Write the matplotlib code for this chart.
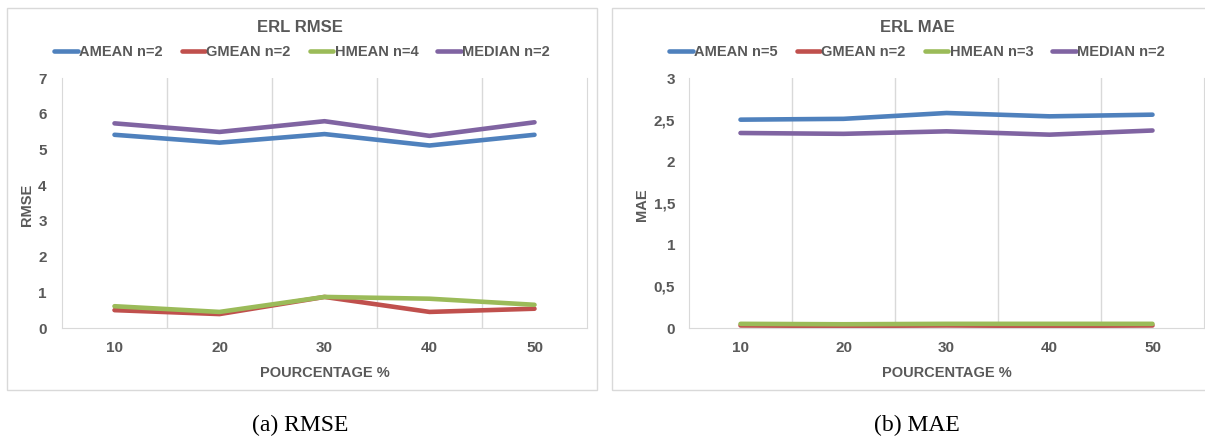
import matplotlib.pyplot as plt
from matplotlib.patches import Rectangle
from matplotlib.ticker import FuncFormatter

pourcentage = [10, 20, 30, 40, 50]

# RMSE panel
rmse_amean = [5.41, 5.19, 5.43, 5.11, 5.41]
rmse_gmean = [0.50, 0.39, 0.87, 0.45, 0.54]
rmse_hmean = [0.61, 0.45, 0.87, 0.82, 0.65]
rmse_median = [5.73, 5.49, 5.79, 5.38, 5.76]
rmse_labels = ["AMEAN n=2", "GMEAN n=2", "HMEAN n=4", "MEDIAN n=2"]

# MAE panel
mae_amean = [2.50, 2.51, 2.58, 2.54, 2.56]
mae_gmean = [0.03, 0.025, 0.03, 0.025, 0.03]
mae_hmean = [0.05, 0.045, 0.05, 0.05, 0.05]
mae_median = [2.34, 2.33, 2.36, 2.32, 2.37]
mae_labels = ["AMEAN n=5", "GMEAN n=2", "HMEAN n=3", "MEDIAN n=2"]

colors = ["#4F81BD", "#C0504D", "#9BBB59", "#8064A2"]
grey = "#595959"
light = "#D9D9D9"

plt.rcParams['font.family'] = ['Liberation Sans', 'DejaVu Sans']

W, H = 1205, 446
fig = plt.figure(figsize=(W / 100, H / 100), dpi=100)


def px(x0, y0, x1, y1):
    return [x0 / W, 1 - y1 / H, (x1 - x0) / W, (y1 - y0) / H]


def panel(rect, series, labels, ymax, ystep, ylabel, title, box, title_x, leg_x, ylab_x, ypad, fmt):
    # outer frame of the chart
    fig.patches.append(Rectangle((box[0] / W, 1 - box[3] / H), (box[2] - box[0]) / W,
                                 (box[3] - box[1]) / H, transform=fig.transFigure,
                                 fill=False, edgecolor=light, lw=1))
    ax = fig.add_axes(px(*rect))
    xs = range(len(pourcentage))
    lines = []
    for vals, c, lab in zip(series, colors, labels):
        ln, = ax.plot(xs, vals, color=c, lw=3.3, label=lab, solid_capstyle='round')
        lines.append(ln)
    ax.set_xlim(-0.5, len(pourcentage) - 0.5)
    ax.set_ylim(0, ymax)
    ax.set_xticks(list(xs))
    ax.set_xticklabels([str(p) for p in pourcentage])
    ax.set_xticks([i + 0.5 for i in range(len(pourcentage) - 1)], minor=True)
    ax.grid(True, which='minor', axis='x', color=light, lw=1)
    ax.set_yticks([i * ystep for i in range(int(round(ymax / ystep)) + 1)])
    ax.yaxis.set_major_formatter(FuncFormatter(fmt))
    ax.spines['top'].set_visible(False)
    for s in ['bottom', 'left', 'right']:
        ax.spines[s].set_color(light)
    ax.tick_params(axis='both', which='both', length=0, colors=grey, labelsize=11)
    ax.tick_params(axis='x', pad=9)
    ax.tick_params(axis='y', pad=ypad)
    for t in ax.get_xticklabels() + ax.get_yticklabels():
        t.set_fontweight('bold')
    ax.set_xlabel("POURCENTAGE %", color=grey, fontsize=10.5, fontweight='bold', labelpad=8)
    fig.text(ylab_x / W, 1 - 205 / H, ylabel, rotation=90, color=grey, fontsize=10.5,
             fontweight='bold', ha='center', va='center')
    fig.text(title_x / W, 1 - 27 / H, title, color=grey, fontsize=12, fontweight='bold',
             ha='center', va='center')
    fig.legend(handles=lines, loc='center', bbox_to_anchor=(leg_x / W, 1 - 52 / H),
               ncol=4, frameon=False, handlelength=1.6, handletextpad=0.1,
               columnspacing=1.3, prop={'size': 10.5, 'weight': 'bold'},
               labelcolor=grey)
    return ax


def plain(v, pos):
    return f"{v:g}"


def comma(v, pos):
    return f"{v:g}".replace('.', ',')


panel((62, 78, 587, 328), [rmse_amean, rmse_gmean, rmse_hmean, rmse_median], rmse_labels,
      7, 1, "RMSE", "ERL RMSE", (7, 8, 597, 390), 300, 302, 27, 11, plain)
panel((689, 78, 1204, 328), [mae_amean, mae_gmean, mae_hmean, mae_median], mae_labels,
      3, 0.5, "MAE", "ERL MAE", (612, 8, 1210, 390), 917, 917, 642, 10, comma)

fig.text(300 / W, 1 - 425 / H, "(a) RMSE", fontsize=17, family=['Liberation Serif'],
         ha='center', va='center')
fig.text(917 / W, 1 - 425 / H, "(b) MAE", fontsize=17, family=['Liberation Serif'],
         ha='center', va='center')

fig.savefig("out.png", dpi=100, facecolor='white')
